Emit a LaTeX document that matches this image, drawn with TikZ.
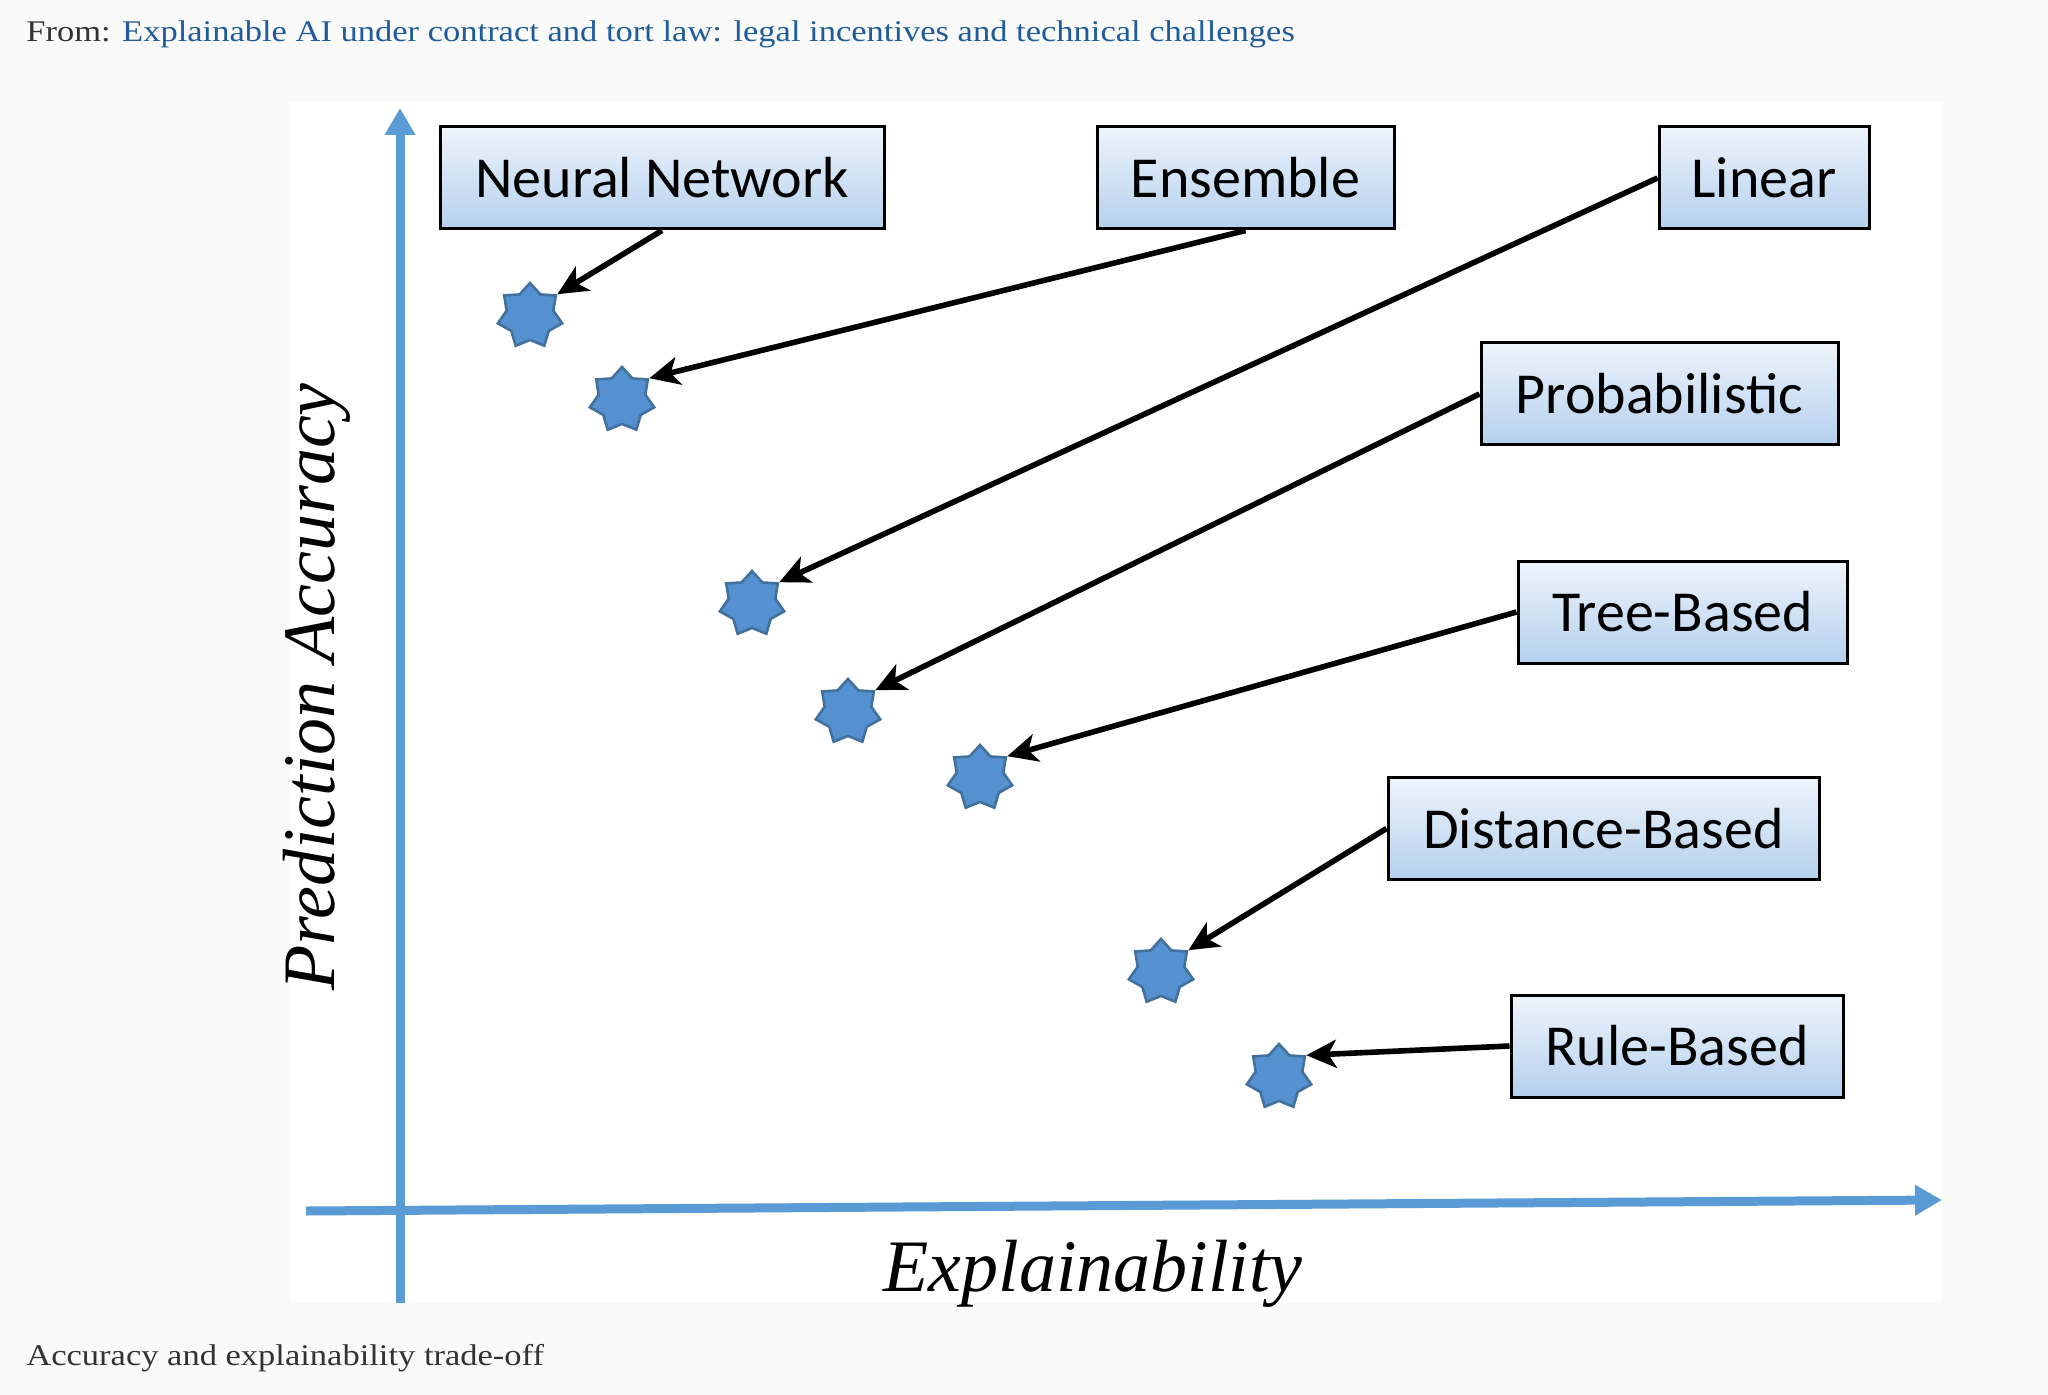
\documentclass[tikz,border=0pt]{standalone}
\usepackage{fontspec}
\setmainfont{Liberation Serif}
\newfontfamily\calib{Carlito}
\usetikzlibrary{shapes.geometric,arrows.meta}
\definecolor{pagebg}{HTML}{FAFAFA}
\definecolor{axisblue}{HTML}{5B9BD5}
\definecolor{starfill}{HTML}{5590D0}
\definecolor{stardraw}{HTML}{41719C}
\definecolor{linkblue}{HTML}{1F5C99}
\definecolor{textgray}{HTML}{333333}
\definecolor{boxtop}{HTML}{EEF4FB}
\definecolor{boxbot}{HTML}{B4D0EE}
\begin{document}
\begin{tikzpicture}[x=0.5pt,y=-0.5pt,
 model/.style={draw=black, line width=1.5pt, top color=boxtop, bottom color=boxbot, minimum height=51pt, inner sep=0pt, font=\calib\fontsize{29}{34}\selectfont},
 pstar/.style={star, star points=7, star point ratio=1.38, minimum size=33pt, inner sep=0pt, fill=starfill, draw=stardraw, line width=1.3pt},
 link/.style={draw=black, line width=2.8pt, -{Stealth[length=15pt,width=14pt,inset=4pt]}},
 axis/.style={draw=axisblue, line width=4.5pt, -{Triangle[length=13.5pt,width=14.5pt]}},
 axlabel/.style={font=\itshape\fontsize{37}{44}\selectfont, inner sep=0pt},
 note/.style={anchor=base west, inner sep=0pt, font=\fontsize{15}{17}\selectfont}
]
\useasboundingbox (0,0) rectangle (2048,1395);
\fill[pagebg] (0,0) rectangle (2048,1395);
\fill[white] (290,102) rectangle (1942,1303);

% header and caption
\node[note] (hdr) at (26,42) {\scalebox{1.15}[1]{\color{textgray}From: \color{linkblue}Explainable AI under contract and tort law: legal incentives and technical challenges}};
\node[note] (cap) at (26,1365) {\scalebox{1.15}[1]{\color{textgray}Accuracy and explainability trade-off}};

% axes
\coordinate (yb) at (400,1303);
\coordinate (yt) at (400,108);
\coordinate (xl) at (306,1211);
\coordinate (xr) at (1942,1200);
\draw[axis] (yb) -- (yt);
\draw[axis] (xl) -- (xr);
\node[axlabel, rotate=90] (ylab) at (317,687) {Prediction Accuracy};
\node[axlabel] (xlab) at (1093,1274) {Explainability};

% model boxes
\node[model, minimum width=222pt] (nn) at (662,178) {Neural Network};
\node[model, minimum width=148.5pt] (ens) at (1245.5,178) {Ensemble};
\node[model, minimum width=105pt] (lin) at (1764,178) {Linear};
\node[model, minimum width=178.5pt] (prob) at (1659.5,394) {Probabilistic};
\node[model, minimum width=164.5pt] (tree) at (1682.5,612) {Tree-Based};
\node[model, minimum width=215.5pt] (dist) at (1603.5,828.5) {Distance-Based};
\node[model, minimum width=166pt] (rule) at (1677,1046) {Rule-Based};

% stars
\node[pstar] (s1) at (530,316) {};
\node[pstar] (s2) at (622,400) {};
\node[pstar] (s3) at (752,604) {};
\node[pstar] (s4) at (848,712) {};
\node[pstar] (s5) at (980,778) {};
\node[pstar] (s6) at (1161,972) {};
\node[pstar] (s7) at (1279,1077) {};

% connectors
\draw[link] (nn.south) -- (s1.outer point 7);
\draw[link] (ens.south) -- (s2.outer point 7);
\draw[link] (lin.west) -- (s3.outer point 7);
\draw[link] (prob.west) -- (s4.outer point 7);
\draw[link] (tree.west) -- (s5.outer point 7);
\draw[link] (dist.west) -- (s6.outer point 7);
\draw[link] (rule.west) -- (s7.outer point 7);
\end{tikzpicture}
\end{document}
